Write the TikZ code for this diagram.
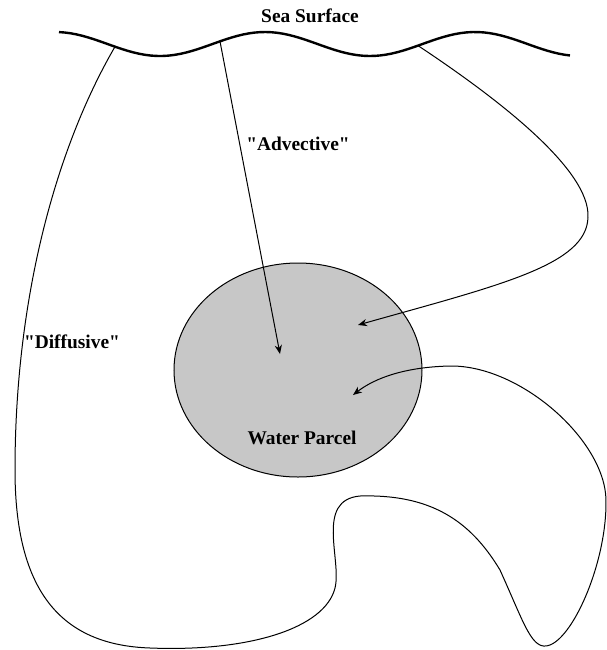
\documentclass[tikz,border=0pt]{standalone}
\usepackage{fontspec}
\setmainfont{Liberation Serif}
\usetikzlibrary{arrows.meta,shapes.geometric}

\begin{document}
\begin{tikzpicture}[
        x=0.5pt, y=-0.5pt,
        surface/.style={line width=1.2pt},
        flow/.style={line width=0.5pt, -{Stealth[length=4.5pt,width=3.6pt]}},
        parcel/.style={ellipse, draw, line width=0.5pt, fill=black!22, minimum width=124pt, minimum height=107pt, inner sep=0pt},
        label_text/.style={font=\fontsize{9.7}{11}\selectfont\bfseries, inner sep=0pt}
    ]
    \useasboundingbox (0,0) rectangle (607,650);

    % sea surface
    \draw[surface] plot[domain=59:570, samples=90] (\x, {44-12*cos((\x-265)*1.7142857)});
    \node[label_text] (sea) at (310,16) {Sea Surface};
    \coordinate (diff_start) at (115,{44-12*cos((115-265)*1.7142857)});
    \coordinate (adv_start) at (220,{44-12*cos((220-265)*1.7142857)});
    \coordinate (mix_start) at (418,{44-12*cos((418-265)*1.7142857)});

    % the water parcel
    \node[parcel] (parcel) at (298,370) {};
    \node[label_text] (parcel_name) at (302,438) {Water Parcel};
    \coordinate (adv_end) at (280,354);
    \coordinate (mix_end) at (358,325);
    \coordinate (diff_end) at (353,395);

    \node[label_text] (adv_label) at (298,144) {\textquotedbl Advective\textquotedbl};
    \node[label_text] (diff_label) at (72,342) {\textquotedbl Diffusive\textquotedbl};

    % pathways
    \draw[flow] (adv_start) -- (adv_end);
    \draw[flow] (mix_start) .. controls (500,100) and (590,170) .. (588,217)
        .. controls (587,265) and (500,285) .. (mix_end);
    \draw[flow] (diff_start) .. controls (55,150) and (15,300) .. (15,470)
        .. controls (15,590) and (60,645) .. (150,648)
        .. controls (250,652) and (325,628) .. (335,588)
        .. controls (342,560) and (315,500) .. (360,496)
        .. controls (430,494) and (470,520) .. (500,570)
        .. controls (525,625) and (532,652) .. (550,645)
        .. controls (575,635) and (607,560) .. (606,500)
        .. controls (605,440) and (520,365) .. (450,366)
        .. controls (405,367) and (375,378) .. (diff_end);
\end{tikzpicture}
\end{document}
